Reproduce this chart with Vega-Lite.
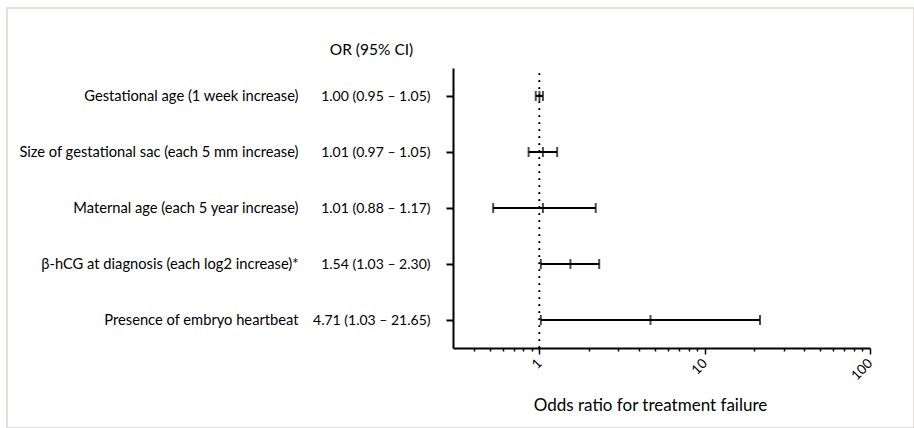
{
  "$schema": "https://vega.github.io/schema/vega-lite/v6.json",
  "autosize": {"type": "none"},
  "padding": {"left": 7, "top": 8, "right": 0, "bottom": 0},
  "width": 907,
  "height": 420,
  "background": "white",
  "config": {
    "view": {"stroke": "#dcd7d2", "strokeWidth": 1.5},
    "font": "Lato",
    "axis": {"grid": false}
  },
  "data": {
    "values": [
      {"name": "Gestational age (1 week increase)", "ci": "1.00 (0.95 – 1.05)", "lo": 0.95, "est": 1.0, "hi": 1.05},
      {"name": "Size of gestational sac (each 5 mm increase)", "ci": "1.01 (0.97 – 1.05)", "lo": 0.86, "est": 1.05, "hi": 1.28},
      {"name": "Maternal age (each 5 year increase)", "ci": "1.01 (0.88 – 1.17)", "lo": 0.525, "est": 1.05, "hi": 2.19},
      {"name": "β-hCG at diagnosis (each log2 increase)*", "ci": "1.54 (1.03 – 2.30)", "lo": 1.02, "est": 1.54, "hi": 2.3},
      {"name": "Presence of embryo heartbeat", "ci": "4.71 (1.03 – 21.65)", "lo": 1.02, "est": 4.7, "hi": 21.6}
    ]
  },
  "layer": [
    {
      "layer": [
        {
          "mark": {"type": "rule", "color": "black", "strokeWidth": 2},
          "encoding": {
            "x": {
              "field": "lo", "type": "quantitative",
              "title": "Odds ratio for treatment failure",
              "scale": {"type": "log", "domain": [0.3, 100], "range": [446, 863], "nice": false, "zero": false},
              "axis": {
                "orient": "bottom", "offset": -80,
                "values": [0.4, 0.5, 0.6, 0.7, 0.8, 0.9, 1, 2, 3, 4, 5, 6, 7, 8, 9, 10, 20, 30, 40, 50, 60, 70, 80, 90, 100],
                "labelExpr": "datum.value == 1 || datum.value == 10 || datum.value == 100 ? '' + datum.value : ''",
                "domainColor": "black", "domainWidth": 2,
                "tickColor": "black", "tickWidth": 1.5,
                "tickSize": {"condition": {"test": "datum.value == 1 || datum.value == 10 || datum.value == 100", "value": 6}, "value": 3},
                "labelAngle": -45, "labelAlign": "right", "labelBaseline": "middle", "labelPadding": 7,
                "labelFontSize": 13.5, "labelColor": "black", "labelOverlap": false, "labelFlush": false,
                "titleFontSize": 17, "titleFontWeight": "normal", "titleColor": "black",
                "titleX": 643, "titleY": 57, "titleAlign": "center", "titleBaseline": "middle"
              }
            },
            "x2": {"field": "hi"},
            "y": {
              "field": "name", "type": "nominal", "sort": null,
              "scale": {"type": "point", "padding": 0.5, "range": [60, 340]},
              "axis": {
                "orient": "left", "offset": -446, "title": null,
                "domainColor": "black", "domainWidth": 2,
                "tickColor": "black", "tickWidth": 2, "tickSize": 7,
                "labelPadding": 148, "labelFontSize": 14.7, "labelColor": "black", "labelLimit": 0
              }
            }
          }
        },
        {
          "mark": {"type": "tick", "color": "black", "thickness": 2, "size": 10},
          "encoding": {
            "x": {"field": "lo", "type": "quantitative", "title": "Odds ratio for treatment failure"},
            "y": {"field": "name", "type": "nominal", "sort": null}
          }
        },
        {
          "mark": {"type": "tick", "color": "black", "thickness": 2, "size": 10},
          "encoding": {
            "x": {"field": "hi", "type": "quantitative", "title": "Odds ratio for treatment failure"},
            "y": {"field": "name", "type": "nominal", "sort": null}
          }
        },
        {
          "mark": {"type": "tick", "color": "black", "thickness": 2, "size": 10},
          "encoding": {
            "x": {"field": "est", "type": "quantitative", "title": "Odds ratio for treatment failure"},
            "y": {"field": "name", "type": "nominal", "sort": null}
          }
        }
      ]
    },
    {
      "mark": {"type": "text", "opacity": 0},
      "encoding": {
        "text": {"field": "ci"},
        "y": {
          "field": "ci", "type": "nominal", "sort": null,
          "scale": {"type": "point", "padding": 0.5, "range": [60, 340]},
          "axis": {
            "orient": "left", "offset": -446, "domain": false, "ticks": false,
            "labelPadding": 23, "labelFontSize": 14, "labelColor": "black", "labelLimit": 0,
            "title": "OR (95% CI)", "titleAngle": 0, "titleX": -82, "titleY": 41,
            "titleAlign": "center", "titleBaseline": "middle",
            "titleFontSize": 15.5, "titleFontWeight": "normal", "titleColor": "black"
          }
        }
      }
    },
    {
      "mark": {"type": "rule", "color": "black", "strokeWidth": 1.3, "strokeDash": [1.5, 5.5]},
      "encoding": {
        "x": {"datum": 1, "type": "quantitative", "title": "Odds ratio for treatment failure"},
        "y": {"datum": 0, "type": "quantitative", "scale": {"domain": [0, 1], "range": [340, 60]}, "axis": null},
        "y2": {"datum": 1}
      }
    }
  ],
  "resolve": {"scale": {"y": "independent"}}
}
